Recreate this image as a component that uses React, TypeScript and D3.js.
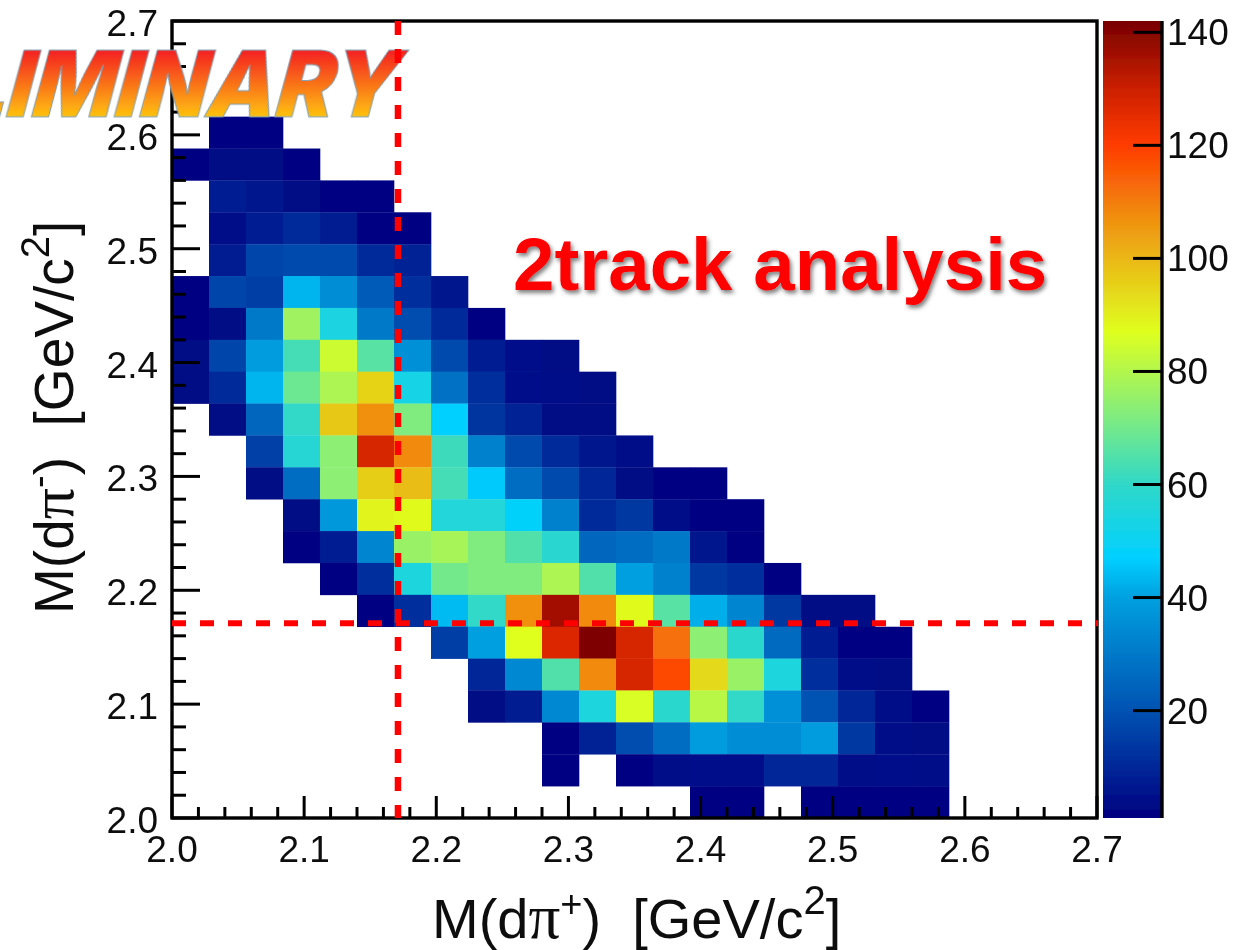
import React from "react";
import * as d3 from "d3";

const binWidth = 0.028;
const rowStart = [3, 3, 3, 1, 0, 1, 1, 1, 0, 0, 0, 0, 1, 2, 2, 3, 3, 4, 5, 7, 8, 8, 10, 10, 14];
const rowCounts: number[][] = [
  [],
  [],
  [],
  [2, 2],
  [2, 3, 3, 2],
  [8, 6, 3, 2, 2],
  [4, 8, 11, 7, 2, 2],
  [7, 17, 18, 18, 11, 9],
  [2, 17, 15, 43, 35, 22, 12, 6],
  [2, 3, 30, 77, 54, 30, 19, 11, 2],
  [3, 17, 39, 63, 84, 66, 36, 18, 8, 5, 3],
  [3, 11, 43, 69, 79, 95, 53, 28, 12, 5, 4, 3],
  [3, 25, 60, 97, 107, 72, 47, 13, 9, 3, 3],
  [16, 57, 74, 128, 108, 62, 32, 18, 11, 6, 4],
  [3, 27, 74, 96, 99, 63, 46, 27, 18, 10, 3, 2, 2],
  [3, 38, 89, 88, 56, 56, 48, 32, 11, 14, 4, 2, 2],
  [2, 8, 33, 76, 78, 72, 65, 58, 25, 27, 30, 6, 2],
  [2, 12, 55, 70, 72, 72, 79, 65, 40, 32, 14, 12, 2],
  [2, 12, 44, 60, 107, 136, 108, 88, 66, 42, 33, 14, 3, 3],
  [15, 40, 87, 127, 141, 128, 112, 74, 59, 26, 8, 2, 2],
  [10, 34, 65, 108, 128, 118, 94, 76, 55, 12, 4, 3],
  [3, 7, 34, 55, 86, 59, 81, 60, 36, 20, 10, 4, 2],
  [2, 9, 19, 27, 39, 35, 35, 39, 14, 4, 3],
  [2, 0, 2, 4, 5, 5, 10, 10, 4, 5, 4],
  [2, 2, 0, 2, 2, 2, 2],
];

const zStops = [1, 20, 40, 47, 60, 72, 87, 97, 107, 120, 130, 142];
const zColors = ["#000080", "#0052b2", "#00a0e0", "#00d0ff", "#30d8c8", "#80ec80", "#dfff1f", "#e8c818", "#f09010", "#ff3c00", "#cc2000", "#780000"];
const axisTicks = [2.0, 2.1, 2.2, 2.3, 2.4, 2.5, 2.6, 2.7];
const minorTicks = d3.range(0, 36).map((i) => 2 + i * 0.02);
const zTicks = [20, 40, 60, 80, 100, 120, 140];
const cutValue = 2.171;
const FONT = "'Liberation Sans', Arial, sans-serif";

function Title({ transform, sup, size }: { transform: string; sup: string; size: number }) {
  return (
    <text transform={transform} fontSize={size} fill="#111" xmlSpace="preserve">
      M(d<tspan fontFamily="'Liberation Serif', serif" fontSize={size + 7}>π</tspan>
      <tspan fontSize={38} dy={-21}>{sup}</tspan>
      <tspan dy={21}>)  [GeV/c</tspan>
      <tspan fontSize={40} dy={-24}>2</tspan>
      <tspan dy={24}>]</tspan>
    </text>
  );
}

export default function App() {
  const x = d3.scaleLinear().domain([2, 2.7]).range([172, 1097]);
  const y = d3.scaleLinear().domain([2, 2.7]).range([818, 21]);
  const z = d3.scaleLinear().domain([1, 142]).range([818, 21]);
  const color = d3.scaleLinear<string>().domain(zStops).range(zColors).interpolate(d3.interpolateRgb);
  const bx0 = x.range()[0];
  const by0 = y.range()[0];
  const [zTop, zBottom] = [z(142), z(1)];
  return (
    <svg width={1239} height={950} style={{ position: "absolute", left: 0, top: 0, display: "block", background: "#fff" }} fontFamily={FONT}>
      <defs>
        <filter id="soft" x="0" y="0" width="100%" height="100%" filterUnits="objectBoundingBox">
          <feGaussianBlur stdDeviation="0.5" />
        </filter>
        <filter id="shadow" x="-5%" y="-20%" width="110%" height="140%">
          <feDropShadow dx="2" dy="3" stdDeviation="2" floodColor="#555" floodOpacity="0.75" />
        </filter>
        <linearGradient id="zbar" x1="0" x2="0" y1="1" y2="0">
          {zStops.map((s, i) => (
            <stop key={s} offset={(s - 1) / 141} stopColor={zColors[i]} />
          ))}
        </linearGradient>
        <linearGradient id="prelim" gradientUnits="userSpaceOnUse" x1="0" x2="0" y1="-67" y2="0">
          <stop offset="0" stopColor="#f41f22" />
          <stop offset="1" stopColor="#ffc30f" />
        </linearGradient>
      </defs>
      <g filter="url(#soft)">
        <rect x={0} y={0} width={1239} height={950} fill="#fff" />
        {rowCounts.map((row, r) =>
          row.map((v, k) => {
            if (v === 0) return null;
            const col = rowStart[r] + k;
            const lowX = 2 + col * binWidth;
            const highY = 2.7 - r * binWidth;
            return (
              <rect
                key={`${r}-${k}`}
                x={x(lowX)}
                y={y(highY)}
                width={x(lowX + binWidth) - x(lowX) + 0.3}
                height={y(highY - binWidth) - y(highY) + 0.3}
                fill={color(v)}
              />
            );
          })
        )}
        <rect x={bx0} y={21} width={925} height={797} fill="none" stroke="#000" strokeWidth={3.4} />
        {minorTicks.map((t, i) => {
          const major = i % 5 === 0;
          return (
            <g key={i} stroke="#000" strokeWidth={3}>
              <line x1={x(t)} x2={x(t)} y1={by0} y2={by0 - (major ? 22 : 11)} />
              <line x1={bx0} x2={bx0 + (major ? 28 : 14)} y1={y(t)} y2={y(t)} />
            </g>
          );
        })}
        {axisTicks.map((t) => (
          <text key={`x${t}`} x={x(t)} y={862} fontSize={37} textAnchor="middle" fill="#111">
            {t.toFixed(1)}
          </text>
        ))}
        {axisTicks.map((t) => (
          <text key={`y${t}`} x={158} y={y(t) + 15} fontSize={37} textAnchor="end" fill="#111">
            {t.toFixed(1)}
          </text>
        ))}
        <rect x={1103} y={zTop} width={59} height={zBottom - zTop} fill="url(#zbar)" />
        <line x1={1162} x2={1162} y1={zTop} y2={zBottom} stroke="#000" strokeWidth={3.4} />
        {zTicks.map((t) => (
          <g key={t}>
            <line x1={1133} x2={1162} y1={z(t)} y2={z(t)} stroke="#000" strokeWidth={3} />
            <text x={1167} y={z(t) + 13} fontSize={37} fill="#111">
              {t}
            </text>
          </g>
        ))}
        <Title transform="translate(432,938)" sup="+" size={56} />
        <Title transform="translate(73,614) rotate(-90)" sup="-" size={55} />
        <g transform="translate(-47,117) skewX(-15)">
          <text
            x={0}
            y={0}
            fontFamily="Inter, 'Liberation Sans', sans-serif"
            fontSize={92}
            fontWeight={900}
            textLength={440}
            lengthAdjust="spacingAndGlyphs"
            fill="url(#prelim)"
            stroke="#7c9cb0"
            strokeWidth={1}
          >
            LIMINARY
          </text>
        </g>
        <line x1={x(cutValue)} x2={x(cutValue)} y1={21} y2={818} stroke="#ff0000" strokeWidth={6.5} strokeDasharray="14 14" />
        <line x1={172} x2={1098} y1={y(cutValue)} y2={y(cutValue)} stroke="#ff0000" strokeWidth={6} strokeDasharray="14 14" />
        <text x={513} y={290} fontSize={74.5} fontWeight={700} fill="#ff0000" filter="url(#shadow)">
          2track analysis
        </text>
      </g>
    </svg>
  );
}
